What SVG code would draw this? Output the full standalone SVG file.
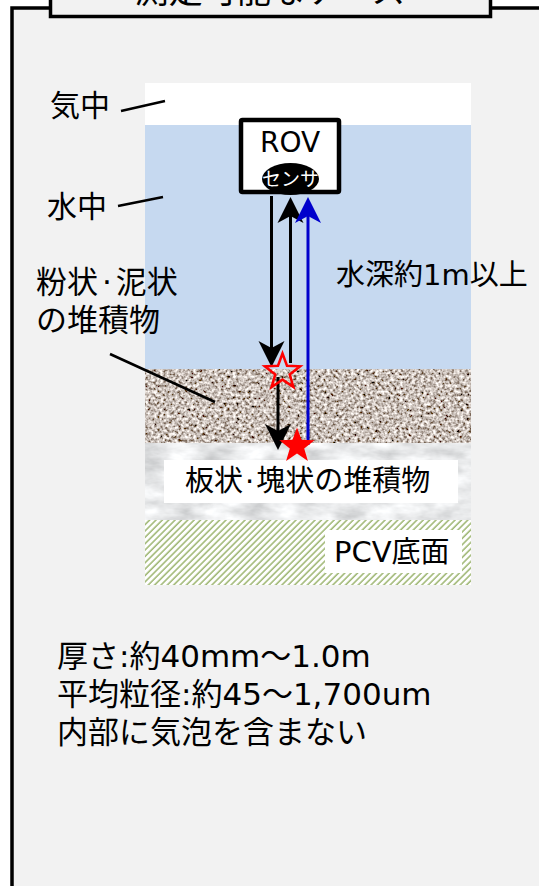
<svg xmlns="http://www.w3.org/2000/svg" width="539" height="886" viewBox="0 0 539 886">
  <style>
    text { font-family: "DejaVu Sans", "Noto Sans CJK JP", sans-serif; fill: #000; }
    .frame { fill: #f2f2f2; stroke: #000; stroke-width: 3.5; }
    .lead { stroke: #000; stroke-width: 2.5; fill: none; }
    .arrow-k { stroke: #000; stroke-width: 3; fill: none; marker-end: url(#head-k); }
    .arrow-b { stroke: #0000cc; stroke-width: 3; fill: none; marker-end: url(#head-b); }
  </style>
  <defs>
    <marker id="head-k" viewBox="-1 -14 28 28" refX="7" refY="0" markerWidth="28" markerHeight="28" markerUnits="userSpaceOnUse" orient="auto">
      <path d="M0,-13 L26,0 L0,13 L7,0 Z" fill="#000"/>
    </marker>
    <marker id="head-b" viewBox="-1 -14 28 28" refX="7" refY="0" markerWidth="28" markerHeight="28" markerUnits="userSpaceOnUse" orient="auto">
      <path d="M0,-13 L26,0 L0,13 L7,0 Z" fill="#0000cc"/>
    </marker>
    <path id="star" d="M0,-18.5 L4.5,-6.2 L17.6,-5.7 L7.2,2.4 L10.9,15 L0,7.6 L-10.9,15 L-7.2,2.4 L-17.6,-5.7 L-4.5,-6.2 Z"/>
    <pattern id="hatch" width="4.5" height="4.5" patternUnits="userSpaceOnUse" patternTransform="rotate(45)">
      <rect width="4.5" height="4.5" fill="#ffffff"/>
      <line x1="1" y1="0" x2="1" y2="4.5" stroke="#84a24c" stroke-width="1.2"/>
    </pattern>
    <!-- granular sediment texture -->
    <filter id="grain" filterUnits="userSpaceOnUse" x="145" y="369" width="326" height="74">
      <feTurbulence type="fractalNoise" baseFrequency="0.33" numOctaves="2" seed="7"/>
      <feColorMatrix type="matrix" values="1.9 0 0 0 -0.36  1.9 0 0 0 -0.42  1.9 0 0 0 -0.46  0 0 0 0 1"/>
    </filter>
    <!-- cloudy grey slab texture -->
    <filter id="marble" filterUnits="userSpaceOnUse" x="145" y="443" width="326" height="77">
      <feTurbulence type="fractalNoise" baseFrequency="0.03 0.07" numOctaves="4" seed="3"/>
      <feColorMatrix type="matrix" values="0.7 0 0 0 0.47  0.7 0 0 0 0.48  0.7 0 0 0 0.49  0 0 0 0 1"/>
    </filter>
  </defs>

  <rect width="539" height="886" fill="#ffffff"/>

  <!-- outer panel and its title tab -->
  <g id="panel">
    <rect class="frame" x="12" y="8" width="600" height="1000"/>
  </g>
  <g id="title">
    <rect class="frame" x="50.5" y="-30" width="440" height="46.5"/>
    <text x="270" y="3" font-size="34" text-anchor="middle">測定可能なケース</text>
  </g>

  <!-- cross-section layers -->
  <g id="layers">
    <rect id="air" x="145" y="83" width="326" height="42" fill="#ffffff"/>
    <rect id="water" x="145" y="125" width="326" height="244" fill="#c6d9f0"/>
    <rect id="sediment" x="145" y="369" width="326" height="74" fill="#a89890" filter="url(#grain)"/>
    <rect id="slab" x="145" y="443" width="326" height="77" fill="#e0e0e0" filter="url(#marble)"/>
    <rect id="floor" x="145" y="520" width="326" height="65" fill="url(#hatch)"/>
  </g>

  <g id="slab-label">
    <rect x="164" y="460" width="294" height="43" fill="#ffffff"/>
    <text x="185" y="491" font-size="29">板状<tspan dx="2">·</tspan><tspan dx="2">塊状の堆積物</tspan></text>
  </g>
  <g id="floor-label">
    <rect x="325" y="530" width="137" height="43" fill="#ffffff"/>
    <text x="334" y="562" font-size="29">PCV底面</text>
  </g>

  <!-- ROV with sensor -->
  <g id="rov">
    <rect x="241" y="120" width="98" height="72" fill="#ffffff" stroke="#000" stroke-width="4.5" rx="1.5"/>
    <text x="290" y="152" font-size="28" text-anchor="middle">ROV</text>
    <ellipse cx="290.5" cy="179" rx="28.5" ry="16" fill="#000"/>
    <text x="290.5" y="186" font-size="19" text-anchor="middle" style="fill:#ffffff">センサ</text>
  </g>

  <!-- side labels -->
  <g id="label-air">
    <text x="50" y="116" font-size="30">気中</text>
  </g>
  <g id="label-water">
    <text x="47" y="217" font-size="30">水中</text>
  </g>
  <g id="label-powder">
    <text x="36" y="293" font-size="31">粉状<tspan dx="4">·</tspan><tspan dx="4">泥状</tspan></text>
    <text x="36" y="331" font-size="31">の堆積物</text>
  </g>
  <g id="label-depth">
    <text x="336" y="285" font-size="29">水深約1m以上</text>
  </g>

  <!-- leader lines and measurement paths -->
  <g id="connectors">
    <line class="lead" x1="121" y1="111" x2="165" y2="101"/>
    <line class="lead" x1="118" y1="206" x2="163" y2="197"/>
    <line class="lead" x1="110" y1="354" x2="215" y2="402"/>
    <line class="arrow-k" x1="271.5" y1="196" x2="271.5" y2="348"/>
    <line class="arrow-k" x1="290.5" y1="363" x2="290.5" y2="216"/>
    <line class="arrow-b" x1="308" y1="445" x2="308" y2="216"/>
    <line class="arrow-k" x1="278" y1="377" x2="278" y2="431"/>
  </g>

  <!-- reflection points -->
  <g id="point-surface">
    <use href="#star" x="282.5" y="372" fill="none" stroke="#ff0000" stroke-width="2.5"/>
  </g>
  <g id="point-bottom">
    <use href="#star" x="297" y="446" fill="#ff0000"/>
  </g>

  <!-- properties note -->
  <g id="note">
    <text x="57" y="667" font-size="31">厚さ:約40mm～1.0m</text>
    <text x="57" y="705" font-size="31">平均粒径:約45～1,700um</text>
    <text x="57" y="743" font-size="31">内部に気泡を含まない</text>
  </g>
</svg>
